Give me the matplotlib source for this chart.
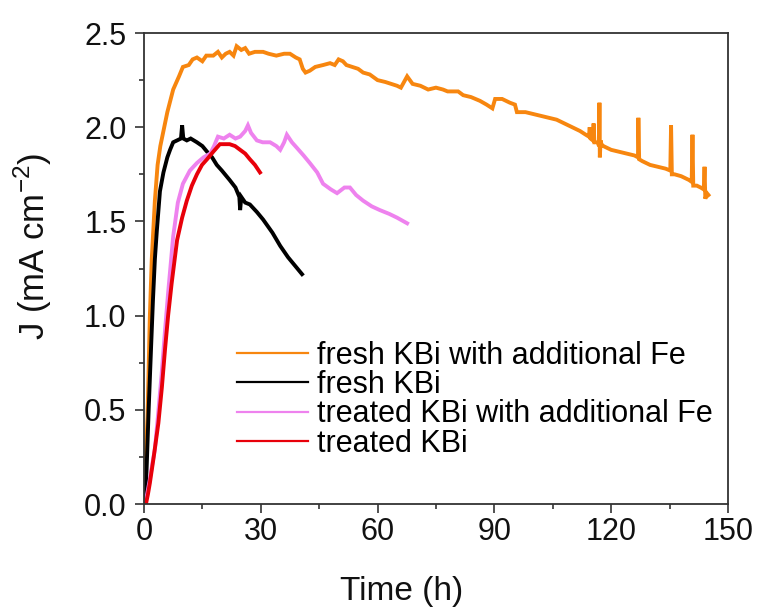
import matplotlib
matplotlib.use("Agg")
import matplotlib.pyplot as plt
from matplotlib.ticker import MultipleLocator, FormatStrFormatter

plt.rcParams['font.family'] = ['Liberation Sans', 'DejaVu Sans']
plt.rcParams['mathtext.fontset'] = 'custom'
plt.rcParams['mathtext.rm'] = 'Liberation Sans'

# fresh KBi with additional Fe
t_fresh_fe = [0, 0.25, 0.5, 0.9, 1.2, 1.5, 2.0, 2.8, 3.5, 4.2, 4.9, 6.0, 7.5, 9.0,
              10.0, 11.5, 12.5, 13.6, 15.0, 16.0, 17.8, 19.0, 20.0, 21.0, 22.0, 23.0,
              23.8, 25.0, 26.0, 27.0, 28.5, 30.6, 32.0, 34.0, 36.0, 37.5, 39.0, 40.0,
              40.8, 41.5, 42.6, 44.0, 46.0, 47.8, 49.0, 50.0, 51.1, 52.0, 53.5, 55.0,
              56.3, 58.0, 60.0, 62.0, 63.5, 65.0, 66.0, 67.6, 69.0, 71.0, 73.0, 75.0,
              76.8, 78.0, 80.7, 82.0, 84.0, 86.3, 88.0, 89.5, 90.2, 92.0, 94.0, 95.3,
              95.8, 98.0, 100.0, 102.0, 104.0, 106.0, 108.0, 110.0, 112.0, 113.5,
              114.3, 114.5, 114.7, 115.3, 115.5, 115.7, 116.5, 116.9, 117.0, 117.1,
              117.3, 117.5, 118.0, 119.0, 120.0, 122.0, 124.0, 126.0, 126.9, 127.0,
              127.2, 128.0, 130.0, 132.0, 134.0, 135.2, 135.4, 135.6, 136.3, 138.0,
              140.0, 140.7, 140.9, 141.1, 142.0, 143.0, 143.8, 144.0, 144.2, 144.6, 145.0]
j_fresh_fe = [0.0, 0.11, 0.25, 0.46, 0.72, 0.99, 1.30, 1.61, 1.80, 1.90, 1.97, 2.08,
              2.20, 2.27, 2.32, 2.33, 2.36, 2.37, 2.35, 2.38, 2.38, 2.40, 2.37, 2.39,
              2.40, 2.38, 2.43, 2.41, 2.42, 2.39, 2.40, 2.40, 2.39, 2.38, 2.39, 2.39,
              2.37, 2.36, 2.31, 2.29, 2.30, 2.32, 2.33, 2.34, 2.33, 2.36, 2.35, 2.33,
              2.32, 2.31, 2.29, 2.28, 2.25, 2.24, 2.23, 2.22, 2.21, 2.27, 2.23, 2.22,
              2.20, 2.21, 2.20, 2.19, 2.19, 2.17, 2.16, 2.14, 2.12, 2.10, 2.15, 2.15,
              2.13, 2.12, 2.08, 2.08, 2.07, 2.06, 2.05, 2.04, 2.02, 2.00, 1.98, 1.96,
              1.95, 2.00, 1.94, 1.93, 2.02, 1.92, 1.92, 1.90, 2.13, 1.84, 1.93, 1.91,
              1.90, 1.89, 1.88, 1.87, 1.86, 1.85, 1.84, 2.05, 1.83, 1.82, 1.80, 1.79,
              1.78, 1.77, 2.01, 1.75, 1.75, 1.74, 1.72, 1.71, 1.96, 1.69, 1.69, 1.68,
              1.67, 1.79, 1.62, 1.65, 1.64]

# fresh KBi
t_fresh = [0.3, 0.7, 1.2, 1.8, 2.3, 2.8, 3.3, 4.1, 5.0, 6.0, 6.7, 7.5, 8.5, 9.5,
           9.8, 10.1, 11.0, 12.0, 13.6, 15.0, 16.2, 17.5, 18.7, 20.0, 22.0, 23.5,
           24.5, 24.7, 25.0, 26.0, 27.2, 29.0, 30.6, 33.0, 35.0, 37.0, 39.0, 40.6]
j_fresh = [0.0, 0.20, 0.50, 0.82, 1.08, 1.30, 1.45, 1.66, 1.76, 1.84, 1.88, 1.92,
           1.93, 1.94, 2.01, 1.94, 1.93, 1.94, 1.92, 1.90, 1.87, 1.84, 1.80, 1.77,
           1.72, 1.68, 1.63, 1.56, 1.63, 1.60, 1.59, 1.55, 1.51, 1.44, 1.37, 1.31,
           1.26, 1.22]

# treated KBi with additional Fe
t_treat_fe = [0.3, 0.7, 1.5, 2.2, 2.8, 3.6, 4.5, 5.4, 6.2, 7.5, 8.7, 10.0, 11.8,
              13.6, 15.3, 17.0, 18.0, 19.0, 20.5, 22.0, 23.5, 24.7, 26.0, 26.7, 27.5,
              29.0, 30.5, 32.4, 34.0, 35.0, 36.0, 36.7, 38.0, 39.3, 41.0, 42.6, 44.5,
              46.0, 48.0, 49.6, 51.5, 52.9, 54.5, 56.3, 58.5, 60.6, 63.0, 65.0, 67.6]
j_treat_fe = [0.0, 0.04, 0.13, 0.22, 0.29, 0.47, 0.68, 0.92, 1.12, 1.42, 1.60, 1.70,
              1.77, 1.81, 1.84, 1.86, 1.90, 1.95, 1.94, 1.96, 1.94, 1.95, 1.98, 2.01,
              1.97, 1.93, 1.92, 1.92, 1.90, 1.88, 1.92, 1.96, 1.92, 1.89, 1.85, 1.81,
              1.76, 1.70, 1.67, 1.65, 1.68, 1.68, 1.64, 1.61, 1.58, 1.56, 1.54, 1.52,
              1.49]

# treated KBi
t_treat = [0.5, 1.0, 1.5, 2.5, 3.7, 4.6, 5.4, 6.2, 7.1, 8.5, 9.8, 11.0, 12.3, 13.6,
           14.9, 16.2, 17.8, 19.5, 21.0, 22.0, 23.4, 24.7, 26.0, 27.2, 28.5, 29.8]
j_treat = [0.0, 0.05, 0.11, 0.25, 0.43, 0.62, 0.82, 1.00, 1.17, 1.40, 1.52, 1.61,
           1.69, 1.75, 1.80, 1.83, 1.87, 1.91, 1.91, 1.91, 1.90, 1.88, 1.86, 1.83,
           1.80, 1.76]

labels = ["fresh KBi with additional Fe", "fresh KBi",
          "treated KBi with additional Fe", "treated KBi"]
colors = ["#F7860F", "#000000", "#EE82EE", "#E8000A"]

fig = plt.figure(figsize=(7.63, 6.08), dpi=100)
ax = fig.add_axes([0.1887, 0.171, 0.7653, 0.7747])

series = [(t_fresh_fe, j_fresh_fe), (t_fresh, j_fresh),
          (t_treat_fe, j_treat_fe), (t_treat, j_treat)]
for (t, j), lab, c in zip(series, labels, colors):
    ax.plot(t, j, color=c, lw=2.8, label=lab, solid_joinstyle='miter')

ax.set_xlim(0, 150)
ax.set_ylim(0, 2.5)
ax.xaxis.set_major_locator(MultipleLocator(30))
ax.xaxis.set_minor_locator(MultipleLocator(15))
ax.yaxis.set_major_locator(MultipleLocator(0.5))
ax.yaxis.set_minor_locator(MultipleLocator(0.25))
ax.yaxis.set_major_formatter(FormatStrFormatter('%.1f'))
ax.tick_params(which='both', direction='out', top=False, right=False,
               width=1.2, labelsize=22, colors='#333333', labelcolor='#111111')
ax.tick_params(which='major', length=6.5)
ax.tick_params(which='minor', length=3.5)
ax.tick_params(axis='x', which='major', pad=3)
ax.tick_params(axis='y', which='major', pad=6)
for s in ax.spines.values():
    s.set_linewidth(1.3)
    s.set_color('#333333')

ax.set_xlabel("Time (h)", fontsize=24, color='#111111')
ax.xaxis.set_label_coords(0.442, -0.153)
ax.set_ylabel("J (mA cm$^{\\mathregular{-2}}$)", fontsize=25, color='#111111')
ax.yaxis.set_label_coords(-0.154, 0.548)

leg = ax.legend(loc='upper left', bbox_to_anchor=(0.159, 0.347), frameon=False,
                fontsize=22, handlelength=2.33, handletextpad=0.3,
                labelspacing=-0.02, borderpad=0, borderaxespad=0)
for line in leg.get_lines():
    line.set_linewidth(1.6)

fig.savefig("out.png", dpi=100)
